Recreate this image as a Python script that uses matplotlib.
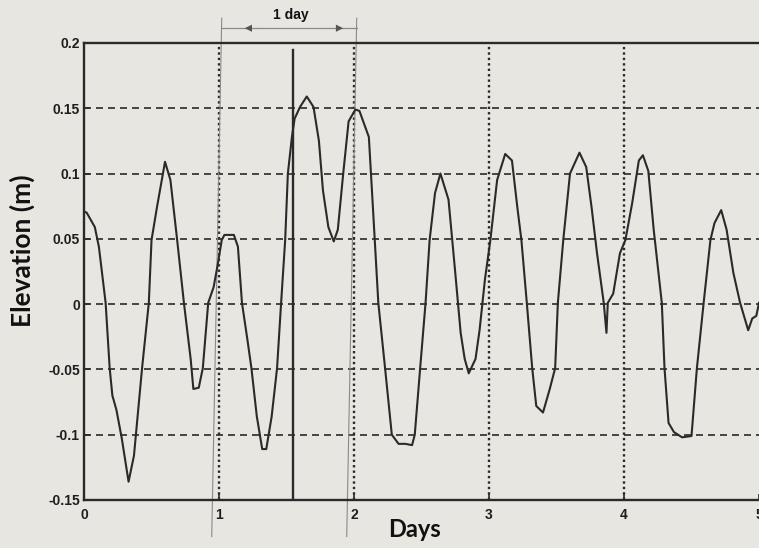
import matplotlib.pyplot as plt
import numpy as np

# Digitised water elevation record (days, m)
days = [0.00, 0.02, 0.08, 0.11, 0.16, 0.19, 0.21, 0.24, 0.28, 0.33, 0.37, 0.43,
        0.48, 0.50, 0.54, 0.60, 0.64, 0.69, 0.74, 0.79, 0.81, 0.85, 0.88, 0.92,
        0.96, 0.99, 1.02, 1.04, 1.11, 1.14, 1.17, 1.21, 1.24, 1.28, 1.32, 1.35,
        1.39, 1.43, 1.46, 1.49, 1.51, 1.54, 1.56, 1.60, 1.65, 1.70, 1.74, 1.77,
        1.81, 1.85, 1.88, 1.92, 1.96, 2.01, 2.04, 2.11, 2.14, 2.18, 2.23, 2.28,
        2.33, 2.38, 2.43, 2.45, 2.49, 2.53, 2.56, 2.60, 2.64, 2.70, 2.75, 2.79,
        2.82, 2.85, 2.90, 2.93, 2.97, 3.01, 3.06, 3.12, 3.17, 3.21, 3.24, 3.28,
        3.32, 3.35, 3.40, 3.45, 3.49, 3.51, 3.55, 3.60, 3.67, 3.72, 3.76, 3.80,
        3.85, 3.87, 3.88, 3.92, 3.97, 4.01, 4.06, 4.11, 4.14, 4.18, 4.22, 4.25,
        4.28, 4.30, 4.33, 4.37, 4.43, 4.50, 4.54, 4.59, 4.64, 4.67, 4.72, 4.76,
        4.81, 4.86, 4.92, 4.95, 4.98, 5.00]
elevation = [0.071, 0.070, 0.059, 0.044, 0.001, -0.049, -0.070, -0.081, -0.103,
             -0.136, -0.116, -0.049, 0.001, 0.049, 0.074, 0.109, 0.095, 0.049,
             0.001, -0.042, -0.065, -0.064, -0.049, 0.001, 0.013, 0.030, 0.049,
             0.053, 0.053, 0.044, 0.001, -0.027, -0.049, -0.086, -0.111, -0.111,
             -0.086, -0.049, 0.001, 0.049, 0.100, 0.128, 0.142, 0.151, 0.159,
             0.151, 0.125, 0.087, 0.059, 0.048, 0.057, 0.100, 0.140, 0.149,
             0.148, 0.128, 0.074, 0.001, -0.049, -0.100, -0.107, -0.107, -0.108,
             -0.100, -0.049, 0.001, 0.049, 0.085, 0.100, 0.080, 0.024, -0.022,
             -0.042, -0.053, -0.042, -0.020, 0.019, 0.049, 0.095, 0.115, 0.110,
             0.074, 0.049, 0.001, -0.049, -0.078, -0.083, -0.065, -0.049, 0.001,
             0.049, 0.100, 0.116, 0.105, 0.074, 0.039, 0.001, -0.022, 0.001,
             0.008, 0.039, 0.049, 0.077, 0.110, 0.114, 0.102, 0.057, 0.029,
             0.001, -0.049, -0.091, -0.098, -0.102, -0.101, -0.049, 0.001,
             0.049, 0.062, 0.072, 0.057, 0.024, 0.001, -0.020, -0.011, -0.009,
             0.001]

xticks = [0, 1, 2, 3, 4, 5]
yticks = [-0.15, -0.1, -0.05, 0, 0.05, 0.1, 0.15, 0.2]
ytick_labels = ['-0.15', '-0.1', '-0.05', '0', '0.05', '0.1', '0.15', '0.2']
day_marks = [1.0, 2.0]   # the "1 day" bracket
marker_day = 1.545       # solid vertical marker

paper = '#e8e6e1'
ink = '#2a2a2a'

fig = plt.figure(figsize=(7.59, 5.48), dpi=100, facecolor=paper)
ax = fig.add_axes([0.1107, 0.0876, 0.8893, 0.834], facecolor=paper)

ax.plot(days, elevation, color=ink, lw=1.5, zorder=3)
ax.axvline(marker_day, ymax=0.985, color=ink, lw=1.7, zorder=3)

ax.set_xlim(0, 5)
ax.set_ylim(-0.15, 0.2)
ax.set_xticks(xticks)
ax.set_yticks(yticks)
ax.set_yticklabels(ytick_labels)

# grid: dashed horizontal, dotted vertical
for y in yticks[1:-1]:
    ax.axhline(y, color=ink, lw=1.2, ls=(0, (4.2, 3.0)), zorder=1)
for x in xticks[1:-1]:
    ax.axvline(x, color=ink, lw=1.7, ls=(0, (1, 1.3)), zorder=1)

for side in ['left', 'top', 'bottom']:
    ax.spines[side].set_linewidth(1.7)
    ax.spines[side].set_color(ink)
ax.spines['right'].set_visible(False)

ax.tick_params(direction='in', length=4, width=1.2, color=ink, labelcolor='#1e1e1e')
ax.tick_params(axis='y', pad=3)
ax.tick_params(axis='x', pad=6)
for lab in ax.get_xticklabels() + ax.get_yticklabels():
    lab.set_fontfamily('Liberation Sans')
    lab.set_fontweight('bold')
    lab.set_fontsize(10)

ax.set_xlabel('Days', fontfamily='Lato', fontweight='bold', fontsize=17,
              color='#111111')
ax.xaxis.set_label_coords(0.49, -0.04)
ax.set_ylabel('Elevation (m)', fontfamily='Lato', fontweight='bold', fontsize=19,
              color='#111111')
ax.yaxis.set_label_coords(-0.072, 0.545)

# thin grey guide lines of the bracket (slightly skewed like the scan)
grey = '#8a8a8a'
for m in day_marks:
    ax.plot([m + 0.02, m - 0.054], [0.219, -0.178], color=grey, lw=0.8,
            clip_on=False, zorder=2)
ax.plot([day_marks[0] + 0.02, day_marks[1] + 0.02], [0.2113, 0.2113], color=grey,
        lw=0.9, clip_on=False)
ax.annotate('', xy=(day_marks[0] + 0.17, 0.2113), xytext=(day_marks[0] + 0.34, 0.2113),
            arrowprops=dict(arrowstyle='-|>', color='#555555', lw=0.01,
                            mutation_scale=13), annotation_clip=False)
ax.annotate('', xy=(day_marks[1] - 0.06, 0.2113), xytext=(day_marks[1] - 0.23, 0.2113),
            arrowprops=dict(arrowstyle='-|>', color='#555555', lw=0.01,
                            mutation_scale=13), annotation_clip=False)
ax.text(np.mean(day_marks) + 0.03, 0.2215, '1 day', ha='center', va='center',
        fontfamily='Liberation Sans', fontweight='bold', fontsize=10,
        color='#111111', clip_on=False)

fig.savefig('out.png', dpi=100, facecolor=paper)
